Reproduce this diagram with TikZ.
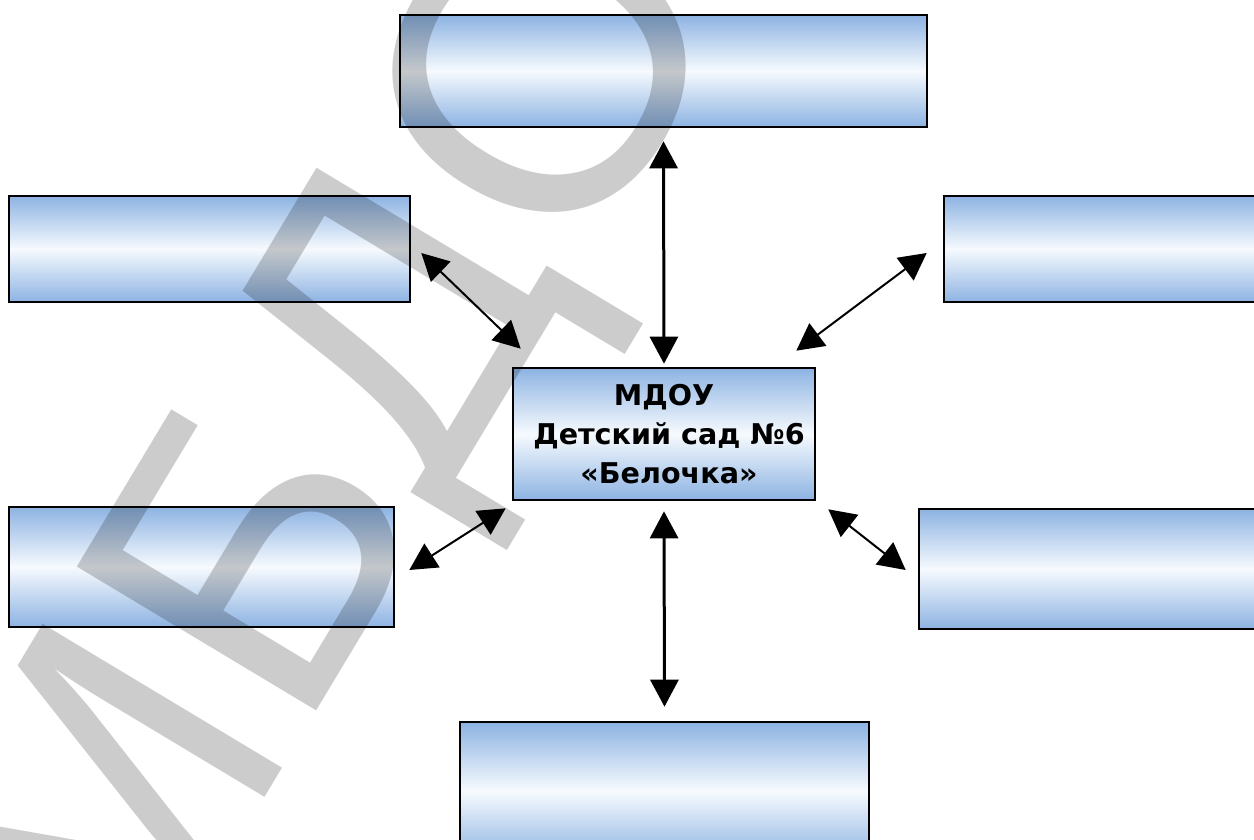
\documentclass[tikz,border=0pt]{standalone}
\usepackage{fontspec}
\setmainfont{DejaVu Sans}
\newfontfamily\wmfont{Liberation Sans}
\usetikzlibrary{arrows.meta}
\definecolor{boxblue}{RGB}{141,179,226}
\definecolor{boxmid}{RGB}{246,250,254}
\begin{document}
\begin{tikzpicture}[x=0.5pt,y=-0.5pt,
  box/.style={draw=black, line width=1.3pt, inner sep=0pt, top color=boxblue, bottom color=boxblue, middle color=boxmid},
  arr/.style={{Triangle[length=13.5pt,width=14pt]}-{Triangle[length=13.5pt,width=14pt]}, line width=1.5pt},
  darr/.style={{Triangle[length=13.5pt,width=14pt]}-{Triangle[length=13.5pt,width=14pt]}, line width=1pt},
  wm/.style={text=black, text opacity=0.2, font=\wmfont\fontsize{203}{203}\selectfont, inner sep=0pt}]
\useasboundingbox (0,0) rectangle (1254,840);
\clip (0,0) rectangle (1254,840);
\fill[white] (0,0) rectangle (1254,840);
\node[box, minimum width=263.5pt, minimum height=56pt] (top) at (663.5,71) {};
\node[box, minimum width=200.5pt, minimum height=53pt] (ul) at (209.5,249) {};
\node[box, minimum width=163pt, minimum height=53pt] (ur) at (1107,249) {};
\node[box, minimum width=151pt, minimum height=66pt, align=center, font=\bfseries\fontsize{14.3}{19.5}\selectfont] (center) at (664,434) {МДОУ\\\hspace*{0.35em}Детский сад №6\\\hspace*{0.35em}«Белочка»};
\node[box, minimum width=192.5pt, minimum height=60pt] (ll) at (201.5,567) {};
\node[box, minimum width=175.5pt, minimum height=60pt] (lr) at (1094.5,569) {};
\node[box, minimum width=204.5pt, minimum height=69pt] (bottom) at (664.5,791) {};
\draw[arr] ([yshift=-6.5pt]top.south) -- ([yshift=1.5pt]center.north);
\draw[arr] ([yshift=-5pt]center.south) -- ([yshift=7pt]bottom.north);
\draw[darr] ([xshift=5pt,yshift=-2pt]ul.east) -- ([xshift=4.5pt,yshift=9pt]center.north west);
\draw[darr] ([xshift=-8pt,yshift=-2pt]ur.west) -- ([xshift=-10pt,yshift=8pt]center.north east);
\draw[darr] ([xshift=-3pt,yshift=-3.5pt]center.south west) -- ([xshift=7pt,yshift=-1.5pt]ll.east);
\draw[darr] ([xshift=6pt,yshift=-4pt]center.south east) -- ([xshift=-6pt,yshift=-0.5pt]lr.west);
\node[wm, rotate=59, anchor=base west] (mark) at (125,1030) {МБДОУ};
\end{tikzpicture}
\end{document}
